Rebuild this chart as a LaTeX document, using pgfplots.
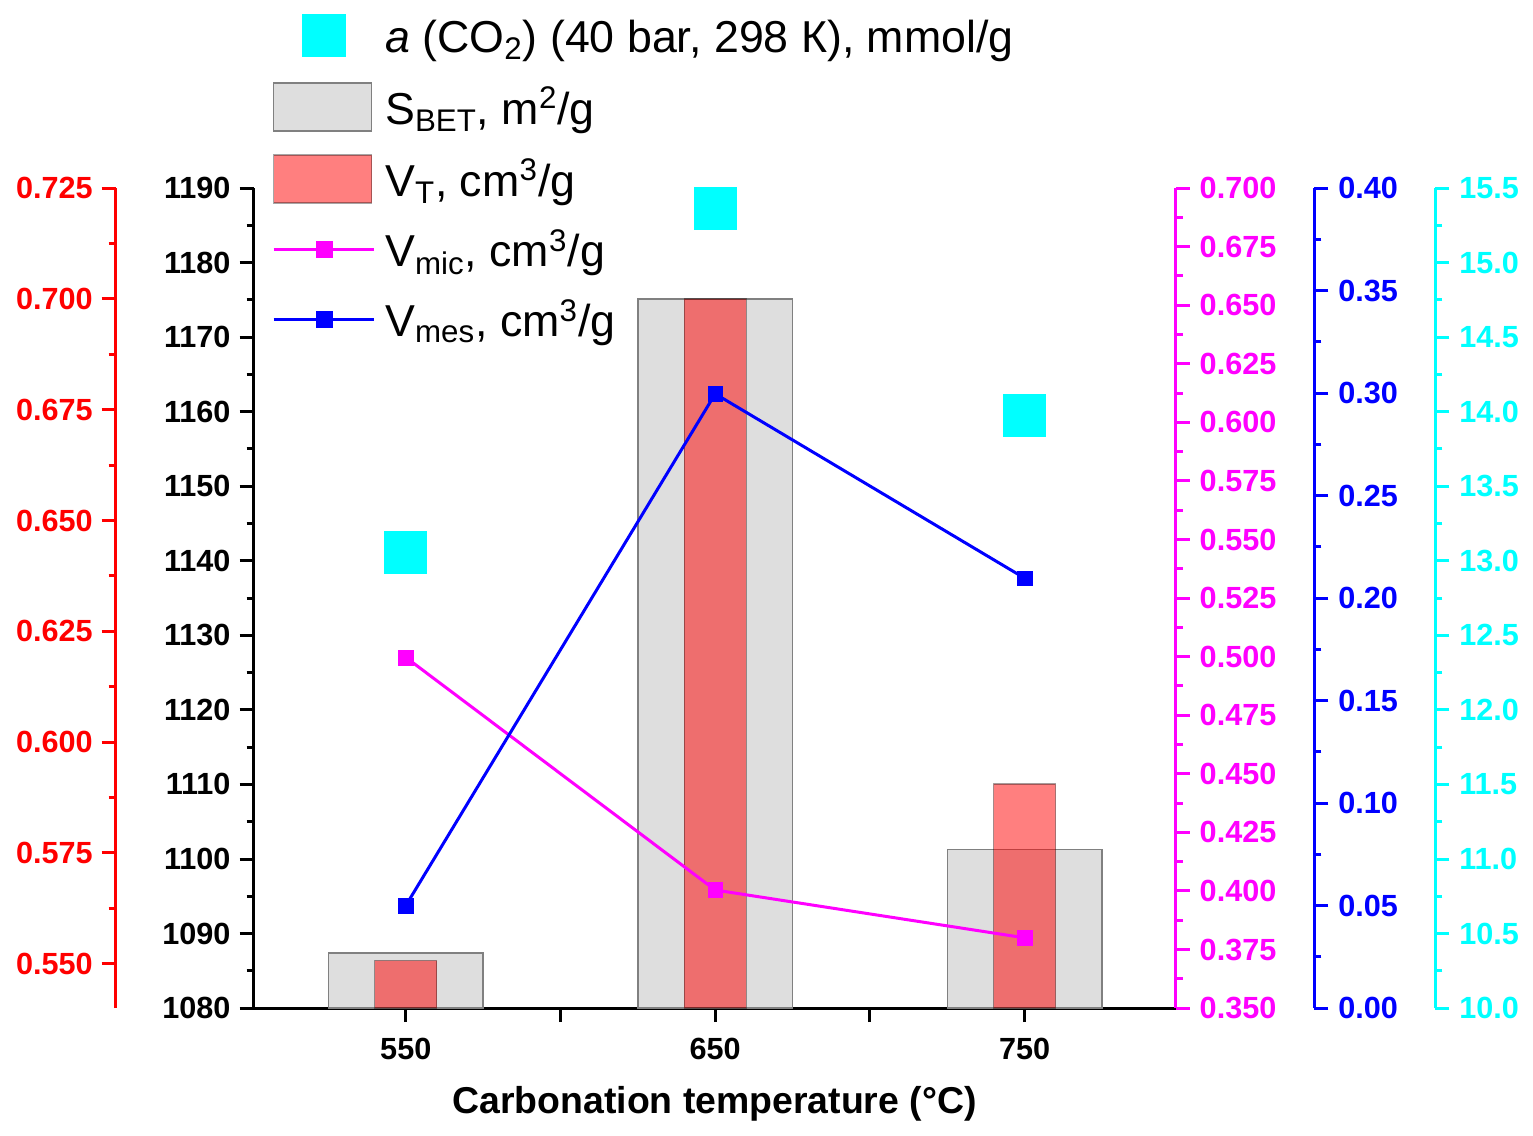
\documentclass[border=0pt]{standalone}
\usepackage{fontspec}
\setmainfont{Liberation Sans}
\usepackage{pgfplots}
\pgfplotsset{compat=1.18}
\definecolor{cRed}{RGB}{255,0,0}
\definecolor{cMag}{RGB}{255,0,255}
\definecolor{cBlue}{RGB}{0,0,255}
\definecolor{cCyan}{RGB}{0,255,255}
\definecolor{cGray}{RGB}{222,222,222}
\pgfplotsset{
  base/.style={
    scale only axis, width=461pt, height=410pt,
    xmin=500.8, xmax=798.8,
    tick align=outside,
    major tick length=7pt, minor tick length=3.5pt,
    tick style={line width=1.5pt},
    ticklabel style={font=\fontsize{15.3}{18}\selectfont\bfseries},
    /pgf/number format/assume math mode=true,
    /pgf/number format/1000 sep={},
  },
  scaleax/.style n args={2}{base, axis x line=none, axis y line*=#1,
    y axis line style={#2, line width=1.5pt},
    ytick style={#2, line width=1.5pt},
    yticklabel style={#2},
    minor y tick num=1},
  dataax/.style={base, hide axis},
}
\begin{document}
\begin{tikzpicture}
\useasboundingbox (-126.75pt,-63.5pt) rectangle (639.65pt,504pt);
% main axis: S_BET
\begin{axis}[base, axis x line*=bottom, axis y line*=left,
  axis line style={black, line width=1.5pt},
  tick style={black, line width=1.5pt},
  ymin=1080, ymax=1190, ytick={1080,1090,...,1190}, minor y tick num=1,
  yticklabel style={xshift=-1pt},
  xtick={550,600,650,700,750}, xticklabels={550,,650,,750},
  xticklabel style={yshift=-4.5pt},
  xlabel={Carbonation temperature (°C)},
  xlabel style={font=\fontsize{18.7}{22}\selectfont\bfseries, at={(axis description cs:0.5,0)}, anchor=base, yshift=-52.5pt},
  ybar, bar width=77.3pt]
\addplot[fill=cGray, draw=black!50, line width=0.7pt] coordinates {(550,1087.4) (650,1175.1) (750,1101.3)};
\end{axis}
% V_T data
\begin{axis}[dataax, ymin=0.54, ymax=0.725, ybar, bar width=31pt]
\addplot[fill=cRed, fill opacity=0.5, draw=black, draw opacity=0.35, line width=0.7pt] coordinates {(550,0.5507) (650,0.700) (750,0.5906)};
\end{axis}
% V_T scale
\begin{axis}[scaleax={left}{cRed}, xshift=-68.9pt, ymin=0.54, ymax=0.725,
  ytick={0.55,0.575,0.6,0.625,0.65,0.675,0.7,0.725},
  yticklabel style={xshift=-1pt, /pgf/number format/.cd, fixed, fixed zerofill, precision=3}]
\end{axis}
% V_mic
\begin{axis}[scaleax={right}{cMag}, ymin=0.35, ymax=0.70, clip=false,
  ytick={0.35,0.375,0.4,0.425,0.45,0.475,0.5,0.525,0.55,0.575,0.6,0.625,0.65,0.675,0.7},
  yticklabel style={xshift=1.5pt, /pgf/number format/.cd, fixed, fixed zerofill, precision=3}]
\addplot[cMag, line width=1.5pt, mark=square*, mark size=3.7pt, mark options={solid, line width=0.2pt}] coordinates {(550,0.4997) (650,0.4004) (750,0.380)};
\end{axis}
% V_mes
\begin{axis}[dataax, ymin=0, ymax=0.4, clip=false]
\addplot[cBlue, line width=1.5pt, mark=square*, mark size=3.7pt, mark options={solid, line width=0.2pt}] coordinates {(550,0.050) (650,0.2996) (750,0.2097)};
\end{axis}
\begin{axis}[scaleax={right}{cBlue}, xshift=69.3pt, ymin=0, ymax=0.4,
  ytick={0,0.05,0.1,0.15,0.2,0.25,0.3,0.35,0.4},
  yticklabel style={xshift=1.5pt, /pgf/number format/.cd, fixed, fixed zerofill, precision=2}]
\end{axis}
% a(CO2) scale
\begin{axis}[scaleax={right}{cCyan}, xshift=129.8pt, ymin=10, ymax=15.5,
  ytick={10,10.5,11,11.5,12,12.5,13,13.5,14,14.5,15,15.5},
  yticklabel style={xshift=1.5pt, /pgf/number format/.cd, fixed, fixed zerofill, precision=1}]
\end{axis}
% a(CO2) data + legend
\begin{axis}[dataax, ymin=10, ymax=15.5, clip=false,
  legend style={at={(axis description cs:0.02007,1.2146)}, anchor=north west,
    draw=none, fill=none, inner sep=0pt, outer sep=0pt,
    row sep=9.15pt, column sep=5pt,
    font=\fontsize{22.35}{26}\selectfont,
    nodes={inner sep=0pt, text height=20pt, text depth=6pt}},
  legend cell align=left]
\addplot[only marks, mark=square*, mark size=10.4pt, cCyan, mark options={line width=0pt},
  legend image code/.code={\fill[cCyan] (14.5pt,-9pt) rectangle (36pt,12pt); \path (0pt,1.5pt) (50pt,1.5pt);}]
  coordinates {(550,13.055) (650,15.362) (750,13.974)};
\addlegendentry{\textit{a} (CO\textsubscript{2}) (40 bar, 298 К), mmol/g}
\addlegendimage{legend image code/.code={\draw[fill=cGray, draw=black!50, line width=0.7pt] (0pt,-10.5pt) rectangle (49pt,13.5pt);}}
\addlegendentry{S\textsubscript{BET}, m\textsuperscript{2}/g}
\addlegendimage{legend image code/.code={\draw[fill=cRed, fill opacity=0.5, draw=black, draw opacity=0.35, line width=0.7pt] (0pt,-10.5pt) rectangle (49pt,13.5pt);}}
\addlegendentry{V\textsubscript{T}, cm\textsuperscript{3}/g}
\addlegendimage{legend image code/.code={\draw[cMag, line width=1.6pt] (0pt,1.5pt) -- (50pt,1.5pt); \fill[cMag] (21.3pt,-2.6pt) rectangle (29.5pt,5.6pt);}}
\addlegendentry{V\textsubscript{mic}, cm\textsuperscript{3}/g}
\addlegendimage{legend image code/.code={\draw[cBlue, line width=1.6pt] (0pt,1.5pt) -- (50pt,1.5pt); \fill[cBlue] (21.3pt,-2.6pt) rectangle (29.5pt,5.6pt);}}
\addlegendentry{V\textsubscript{mes}, cm\textsuperscript{3}/g}
\end{axis}
\end{tikzpicture}
\end{document}
